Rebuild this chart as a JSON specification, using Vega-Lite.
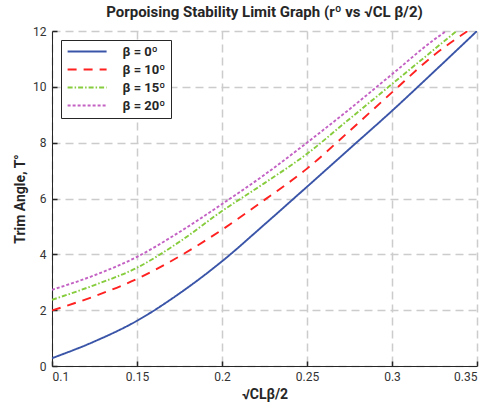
{
  "$schema": "https://vega.github.io/schema/vega-lite/v6.json",
  "width": 425,
  "height": 335,
  "autosize": {"type": "none"},
  "padding": {"left": 52, "top": 31, "right": 19, "bottom": 42},
  "background": "white",
  "title": {
    "text": "Porpoising Stability Limit Graph (rº vs √CL β/2)",
    "fontSize": 15,
    "font": "Roboto",
    "fontWeight": "bold",
    "color": "#262626",
    "anchor": "middle",
    "offset": 5
  },
  "data": {
    "values": [
      {"x": 0.1, "y": 0.28, "s": "β = 0º"},
      {"x": 0.125, "y": 0.88, "s": "β = 0º"},
      {"x": 0.15, "y": 1.62, "s": "β = 0º"},
      {"x": 0.175, "y": 2.6, "s": "β = 0º"},
      {"x": 0.2, "y": 3.75, "s": "β = 0º"},
      {"x": 0.225, "y": 5.07, "s": "β = 0º"},
      {"x": 0.25, "y": 6.42, "s": "β = 0º"},
      {"x": 0.275, "y": 7.78, "s": "β = 0º"},
      {"x": 0.3, "y": 9.14, "s": "β = 0º"},
      {"x": 0.325, "y": 10.56, "s": "β = 0º"},
      {"x": 0.35, "y": 12.0, "s": "β = 0º"},
      {"x": 0.1, "y": 1.99, "s": "β = 10º"},
      {"x": 0.125, "y": 2.5, "s": "β = 10º"},
      {"x": 0.15, "y": 3.12, "s": "β = 10º"},
      {"x": 0.175, "y": 3.93, "s": "β = 10º"},
      {"x": 0.2, "y": 4.88, "s": "β = 10º"},
      {"x": 0.225, "y": 5.95, "s": "β = 10º"},
      {"x": 0.25, "y": 7.07, "s": "β = 10º"},
      {"x": 0.275, "y": 8.42, "s": "β = 10º"},
      {"x": 0.3, "y": 9.8, "s": "β = 10º"},
      {"x": 0.325, "y": 11.15, "s": "β = 10º"},
      {"x": 0.3445, "y": 12.0, "s": "β = 10º"},
      {"x": 0.1, "y": 2.37, "s": "β = 15º"},
      {"x": 0.125, "y": 2.9, "s": "β = 15º"},
      {"x": 0.15, "y": 3.52, "s": "β = 15º"},
      {"x": 0.175, "y": 4.45, "s": "β = 15º"},
      {"x": 0.2, "y": 5.55, "s": "β = 15º"},
      {"x": 0.225, "y": 6.55, "s": "β = 15º"},
      {"x": 0.25, "y": 7.6, "s": "β = 15º"},
      {"x": 0.275, "y": 8.85, "s": "β = 15º"},
      {"x": 0.3, "y": 10.1, "s": "β = 15º"},
      {"x": 0.325, "y": 11.35, "s": "β = 15º"},
      {"x": 0.338, "y": 12.0, "s": "β = 15º"},
      {"x": 0.1, "y": 2.73, "s": "β = 20º"},
      {"x": 0.125, "y": 3.25, "s": "β = 20º"},
      {"x": 0.15, "y": 3.91, "s": "β = 20º"},
      {"x": 0.175, "y": 4.8, "s": "β = 20º"},
      {"x": 0.2, "y": 5.8, "s": "β = 20º"},
      {"x": 0.225, "y": 6.85, "s": "β = 20º"},
      {"x": 0.25, "y": 8.0, "s": "β = 20º"},
      {"x": 0.275, "y": 9.2, "s": "β = 20º"},
      {"x": 0.3, "y": 10.45, "s": "β = 20º"},
      {"x": 0.325, "y": 11.7, "s": "β = 20º"},
      {"x": 0.332, "y": 12.0, "s": "β = 20º"}
    ]
  },
  "mark": {"type": "line", "interpolate": "monotone", "strokeWidth": 1.9, "clip": true},
  "encoding": {
    "x": {
      "field": "x", "type": "quantitative",
      "scale": {"domain": [0.1, 0.35], "nice": false, "zero": false},
      "axis": {"values": [0.1, 0.15, 0.2, 0.25, 0.3, 0.35], "format": "~g", "title": "√CLβ/2", "titlePadding": 5, "labelPadding": 10}
    },
    "y": {
      "field": "y", "type": "quantitative",
      "scale": {"domain": [0, 12], "nice": false},
      "axis": {"values": [0, 2, 4, 6, 8, 10, 12], "title": "Trim Angle, T°", "titlePadding": 5, "labelPadding": 11}
    },
    "color": {
      "field": "s", "type": "nominal",
      "scale": {"domain": ["β = 0º", "β = 10º", "β = 15º", "β = 20º"], "range": ["#3a55a8", "#ff2020", "#86cc3c", "#c462c4"]},
      "legend": {"title": null}
    },
    "strokeDash": {
      "field": "s", "type": "nominal",
      "scale": {"domain": ["β = 0º", "β = 10º", "β = 15º", "β = 20º"], "range": [[1, 0], [9, 7], [5, 2, 1.5, 2], [3, 2]]},
      "legend": {"title": null}
    }
  },
  "config": {
    "view": {"stroke": null},
    "font": "Roboto",
    "axis": {
      "domainColor": "#262626",
      "domainWidth": 1,
      "tickColor": "#262626",
      "tickSize": -5,
      "tickWidth": 1.5,
      "labelFont": "Roboto",
      "labelFontSize": 12,
      "labelColor": "#333333",
      "titleFont": "Roboto",
      "titleFontSize": 14,
      "titleFontWeight": "bold",
      "titleColor": "#262626",
      "grid": true,
      "gridColor": "#cccccc",
      "gridDash": [8, 5],
      "gridWidth": 1.5
    },
    "legend": {
      "orient": "top-left",
      "offset": 9,
      "strokeColor": "#262626",
      "fillColor": "white",
      "padding": 5,
      "symbolType": "M-4,0H4",
      "symbolSize": 95,
      "symbolOffset": 14.6,
      "symbolStrokeWidth": 1.9,
      "labelFont": "Roboto",
      "labelFontSize": 13,
      "labelFontWeight": "bold",
      "labelColor": "#262626",
      "labelOffset": 29,
      "rowPadding": 4
    }
  }
}
